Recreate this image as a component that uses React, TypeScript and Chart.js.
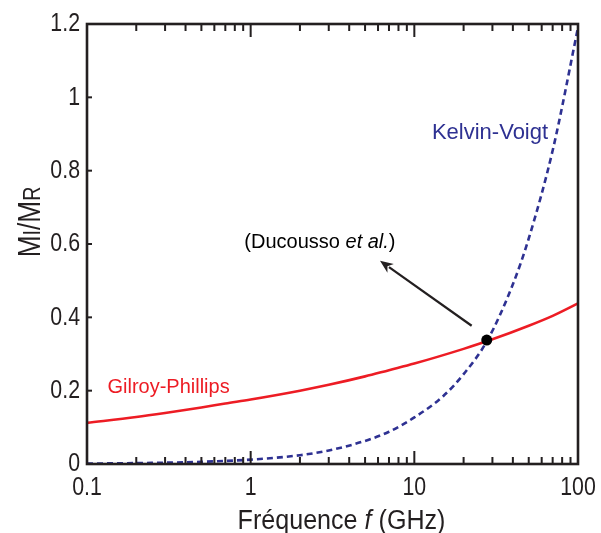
import React, { useEffect, useRef } from "react";
import { Chart, registerables } from "chart.js";

Chart.register(...registerables);

// ---- Data ----
const gpFreq = [0.1, 0.2, 0.3, 0.5, 0.7, 1, 2, 3, 5, 7, 10, 20, 30, 50, 70, 100];
const gpValues = [0.112, 0.128, 0.139, 0.154, 0.165, 0.176, 0.2, 0.216, 0.239, 0.256, 0.274, 0.314, 0.34, 0.377, 0.404, 0.438];

const kvFreq = [0.1, 0.2, 0.5, 1, 2, 3, 5, 7, 10, 15, 20, 28, 40, 50, 70, 100];
const kvValues = [0.0012, 0.0025, 0.006, 0.012, 0.024, 0.037, 0.063, 0.088, 0.127, 0.185, 0.245, 0.338, 0.49, 0.615, 0.855, 1.19];

const crossingPoint = { x: 27.7, y: 0.338 };

const xMajorTicks = [0.1, 1, 10, 100];
const xMajorLabels = ["0.1", "1", "10", "100"];
const xMinorMultipliers = [2, 3, 4, 5, 6, 7, 8, 9];
const yTickValues = [0, 0.2, 0.4, 0.6, 0.8, 1, 1.2];
const yTickLabels = ["0", "0.2", "0.4", "0.6", "0.8", "1", "1.2"];

// annotation anchors (data coordinates)
const labelGilroy = { text: "Gilroy-Phillips", x: 0.315, y: 0.21 };
const labelKelvin = { text: "Kelvin-Voigt", x: 29.0, y: 0.903 };
const labelRef = { x: 2.65, y: 0.605 };
const arrowFrom = { x: 22.4, y: 0.377 };
const arrowTo = { x: 6.17, y: 0.554 };

const RED = "#ed1c24";
const NAVY = "#2e3192";
const AXIS = "#231f20";
const FONT = "'Liberation Sans', Arial, sans-serif";
const NARROW = 0.82;

const toXY = (xs: number[], ys: number[]) => xs.map((x, i) => ({ x, y: ys[i] }));

function drawNarrow(ctx: any, text: string, x: number, y: number, align: string, font: string, sx: number) {
  ctx.save();
  ctx.font = font;
  ctx.textAlign = align;
  ctx.translate(x, y);
  ctx.scale(sx, 1);
  ctx.fillText(text, 0, 0);
  ctx.restore();
}

const framePlugin = {
  id: "frameTicks",
  afterDatasetsDraw(chart: any) {
    const { ctx, chartArea } = chart;
    const { left, right, top, bottom } = chartArea;
    const x = chart.scales.x;
    const y = chart.scales.y;
    ctx.save();
    ctx.strokeStyle = AXIS;
    ctx.lineWidth = 2;
    ctx.lineCap = "butt";
    for (const t of x.ticks) {
      const px = x.getPixelForValue(t.value);
      const len = t.major ? 13 : 7;
      ctx.beginPath();
      ctx.moveTo(px, bottom);
      ctx.lineTo(px, bottom - len);
      ctx.moveTo(px, top);
      ctx.lineTo(px, top + len);
      ctx.stroke();
    }
    for (const t of y.ticks) {
      const py = y.getPixelForValue(t.value);
      ctx.beginPath();
      ctx.moveTo(left, py);
      ctx.lineTo(left + 5, py);
      ctx.stroke();
    }
    ctx.lineWidth = 2.6;
    ctx.strokeRect(left, top, right - left, bottom - top);

    // tick labels
    ctx.fillStyle = AXIS;
    ctx.textBaseline = "middle";
    const tf = `26px ${FONT}`;
    x.ticks.forEach((t: any) => {
      const i = xMajorTicks.indexOf(t.value);
      if (i >= 0) drawNarrow(ctx, xMajorLabels[i], x.getPixelForValue(t.value), bottom + 24, "center", tf, NARROW);
    });
    yTickValues.forEach((v, i) => {
      drawNarrow(ctx, yTickLabels[i], left - 7, y.getPixelForValue(v), "right", tf, NARROW);
    });
    ctx.restore();
  },
};

const annotationPlugin = {
  id: "annotations",
  afterDatasetsDraw(chart: any) {
    const { ctx } = chart;
    const x = chart.scales.x;
    const y = chart.scales.y;
    const px = (v: number) => x.getPixelForValue(v);
    const py = (v: number) => y.getPixelForValue(v);
    ctx.save();
    ctx.textBaseline = "middle";
    ctx.textAlign = "center";

    ctx.fillStyle = RED;
    ctx.font = `20px ${FONT}`;
    ctx.fillText(labelGilroy.text, px(labelGilroy.x), py(labelGilroy.y));

    ctx.fillStyle = NAVY;
    ctx.font = `22px ${FONT}`;
    ctx.fillText(labelKelvin.text, px(labelKelvin.x), py(labelKelvin.y));

    // (Ducousso et al.)
    ctx.fillStyle = "#000";
    const parts = [
      { t: "(Ducousso ", f: `20px ${FONT}` },
      { t: "et al.", f: `italic 20px ${FONT}` },
      { t: ")", f: `20px ${FONT}` },
    ];
    let total = 0;
    for (const p of parts) {
      ctx.font = p.f;
      total += ctx.measureText(p.t).width;
    }
    let cx = px(labelRef.x) - total / 2;
    ctx.textAlign = "left";
    for (const p of parts) {
      ctx.font = p.f;
      ctx.fillText(p.t, cx, py(labelRef.y));
      cx += ctx.measureText(p.t).width;
    }

    // arrow
    const x1 = px(arrowFrom.x), y1 = py(arrowFrom.y);
    const x2 = px(arrowTo.x), y2 = py(arrowTo.y);
    const ang = Math.atan2(y2 - y1, x2 - x1);
    const head = 13;
    const hw = 5.5;
    ctx.strokeStyle = "#231f20";
    ctx.fillStyle = "#231f20";
    ctx.lineWidth = 2.2;
    ctx.beginPath();
    ctx.moveTo(x1, y1);
    ctx.lineTo(x2 - Math.cos(ang) * (head - 2), y2 - Math.sin(ang) * (head - 2));
    ctx.stroke();
    ctx.beginPath();
    ctx.moveTo(x2, y2);
    const bx = x2 - Math.cos(ang) * head;
    const by = y2 - Math.sin(ang) * head;
    ctx.lineTo(bx + Math.sin(ang) * hw, by - Math.cos(ang) * hw);
    ctx.lineTo(x2 - Math.cos(ang) * (head * 0.7), y2 - Math.sin(ang) * (head * 0.7));
    ctx.lineTo(bx - Math.sin(ang) * hw, by + Math.cos(ang) * hw);
    ctx.closePath();
    ctx.fill();

    // x axis title
    const area = chart.chartArea;
    ctx.fillStyle = AXIS;
    ctx.textBaseline = "alphabetic";
    ctx.textAlign = "left";
    const xs = 0.93;
    const xt = [
      { t: "Fréquence ", f: `27px ${FONT}` },
      { t: "f", f: `italic 27px ${FONT}` },
      { t: " (GHz)", f: `27px ${FONT}` },
    ];
    let w = 0;
    for (const p of xt) {
      ctx.font = p.f;
      w += ctx.measureText(p.t).width * xs;
    }
    ctx.save();
    ctx.translate((area.left + area.right) / 2 + 9 - w / 2, 529);
    ctx.scale(xs, 1);
    let sx = 0;
    for (const p of xt) {
      ctx.font = p.f;
      ctx.fillText(p.t, sx, 0);
      sx += ctx.measureText(p.t).width;
    }
    ctx.restore();

    // y axis title M_I / M_R
    const yt = [
      { t: "M", f: `32px ${FONT}` },
      { t: "I", f: `24px ${FONT}` },
      { t: "/", f: `32px ${FONT}` },
      { t: "M", f: `32px ${FONT}` },
      { t: "R", f: `24px ${FONT}` },
    ];
    let wy = 0;
    for (const p of yt) {
      ctx.font = p.f;
      wy += ctx.measureText(p.t).width;
    }
    ctx.save();
    ctx.translate(40, 222);
    ctx.rotate(-Math.PI / 2);
    ctx.scale(NARROW, 1);
    let sy = -wy / 2;
    for (const p of yt) {
      ctx.font = p.f;
      ctx.fillText(p.t, sy, 0);
      sy += ctx.measureText(p.t).width;
    }
    ctx.restore();
    ctx.restore();
  },
};

export default function App() {
  const canvasRef = useRef<HTMLCanvasElement | null>(null);

  useEffect(() => {
    document.body.style.margin = "0";
    const canvas = canvasRef.current;
    if (!canvas) return;

    const xTickList: { value: number; major: boolean }[] = [];
    xMajorTicks.forEach((m, i) => {
      xTickList.push({ value: m, major: true });
      if (i < xMajorTicks.length - 1) {
        xMinorMultipliers.forEach((k) => xTickList.push({ value: m * k, major: false }));
      }
    });

    const chart = new Chart(canvas, {
      type: "line",
      data: {
        datasets: [
          {
            label: "crossing",
            data: [crossingPoint],
            showLine: false,
            pointRadius: 5.5,
            pointBackgroundColor: "#000",
            pointBorderColor: "#000",
            pointBorderWidth: 0,
          },
          {
            label: "Gilroy-Phillips",
            data: toXY(gpFreq, gpValues),
            borderColor: RED,
            borderWidth: 2.6,
            pointRadius: 0,
            cubicInterpolationMode: "monotone",
            fill: false,
          },
          {
            label: "Kelvin-Voigt",
            data: toXY(kvFreq, kvValues),
            borderColor: NAVY,
            borderWidth: 2.6,
            borderDash: [6, 4],
            pointRadius: 0,
            cubicInterpolationMode: "monotone",
            fill: false,
          },
        ],
      },
      options: {
        responsive: false,
        animation: false,
        devicePixelRatio: 1,
        layout: { padding: { top: 24, right: 23, left: 0, bottom: 0 } },
        plugins: {
          legend: { display: false },
          tooltip: { enabled: false },
        },
        scales: {
          x: {
            type: "logarithmic",
            min: 0.1,
            max: 100,
            afterBuildTicks: (scale: any) => {
              scale.ticks = xTickList.map((t) => ({ ...t }));
            },
            afterFit: (scale: any) => {
              scale.height = 69;
            },
            grid: { display: false, drawTicks: false },
            border: { display: false },
            ticks: { display: false },
          },
          y: {
            type: "linear",
            min: 0,
            max: 1.2,
            afterBuildTicks: (scale: any) => {
              scale.ticks = yTickValues.map((v) => ({ value: v }));
            },
            afterFit: (scale: any) => {
              scale.width = 87;
            },
            grid: { display: false, drawTicks: false },
            border: { display: false },
            ticks: { display: false },
          },
        },
      },
      plugins: [framePlugin, annotationPlugin],
    } as any);

    return () => chart.destroy();
  }, []);

  return (
    <div style={{ width: 601, height: 533, background: "#fff" }}>
      <canvas ref={canvasRef} width={601} height={533} style={{ width: 601, height: 533, display: "block" }} />
    </div>
  );
}
